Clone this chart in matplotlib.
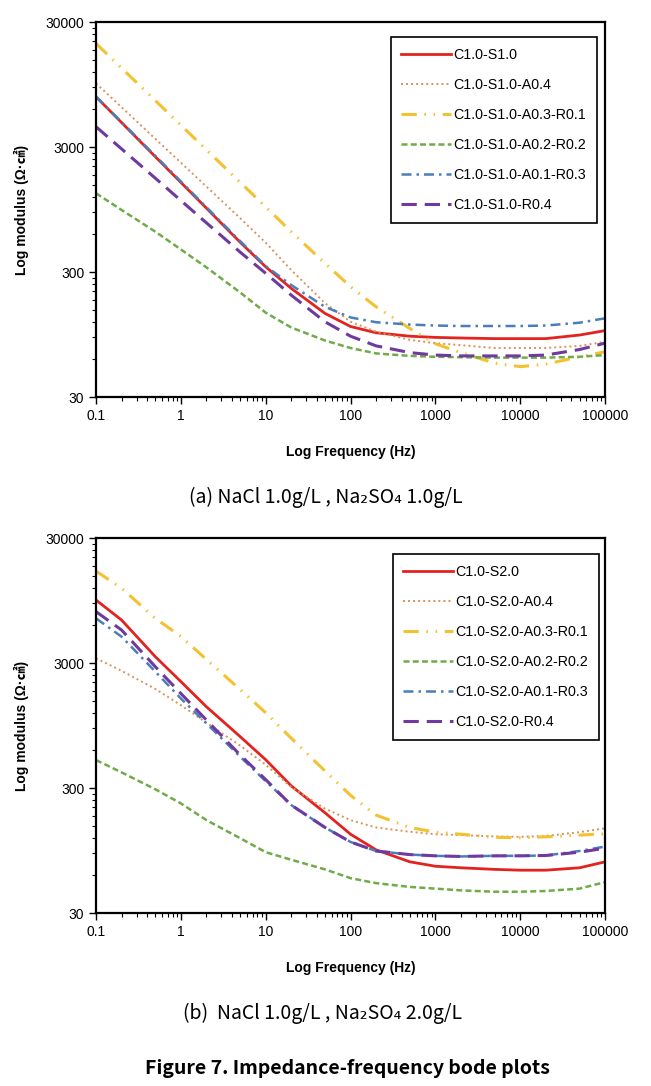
import numpy as np
import matplotlib.pyplot as plt
from matplotlib.ticker import FixedLocator, NullFormatter

plt.rcParams['font.family'] = ['Liberation Sans', 'Noto Sans CJK KR', 'DejaVu Sans']

# frequency (Hz)
freq = [0.1, 0.2, 0.5, 1, 2, 5, 10, 20, 50, 100, 200, 500,
        1000, 2000, 5000, 10000, 20000, 50000, 100000]

# (a) NaCl 1.0g/L, Na2SO4 1.0g/L
labels_a = ['C1.0-S1.0', 'C1.0-S1.0-A0.4', 'C1.0-S1.0-A0.3-R0.1',
            'C1.0-S1.0-A0.2-R0.2', 'C1.0-S1.0-A0.1-R0.3', 'C1.0-S1.0-R0.4']
a_s10 = [7570, 4710, 2510, 1563, 973, 519, 330, 222, 140, 110, 98, 92, 90, 89, 88, 88, 88, 94, 102]
a_a04 = [9700, 6250, 3490, 2250, 1450, 809, 515, 311, 169, 120, 100, 86, 81, 78, 74, 74, 74, 77, 83]
a_a03 = [20200, 12850, 7060, 4490, 2850, 1567, 995, 630, 352, 229, 158, 106, 80, 68, 56, 52.5, 55, 63, 69]
a_a02 = [1280, 942, 631, 455, 327, 206, 142, 108, 85, 74, 67, 64, 63, 62.5, 62, 62, 62, 63, 65]
a_a01 = [7600, 4750, 2550, 1590, 990, 530, 335, 236, 158, 130, 119, 114, 112, 111, 111, 111, 112, 118, 128]
a_r04 = [4360, 2900, 1690, 1120, 743, 433, 293, 196, 120, 92, 77, 68, 65, 64, 64, 64, 65, 72, 81]

# (b) NaCl 1.0g/L, Na2SO4 2.0g/L
labels_b = ['C1.0-S2.0', 'C1.0-S2.0-A0.4', 'C1.0-S2.0-A0.3-R0.1',
            'C1.0-S2.0-A0.2-R0.2', 'C1.0-S2.0-A0.1-R0.3', 'C1.0-S2.0-R0.4']
b_s20 = [9570, 6620, 3370, 2130, 1340, 773, 505, 312, 190, 128, 96, 77, 71, 69, 67, 66, 66, 69, 77]
b_a04 = [3270, 2600, 1860, 1380, 998, 655, 460, 305, 205, 166, 145, 134, 128, 126, 123, 122, 124, 133, 143]
b_a03 = [16300, 11900, 6830, 4900, 3200, 1840, 1200, 750, 410, 262, 182, 145, 133, 128, 121, 120, 122, 126, 129]
b_a02 = [502, 400, 293, 226, 166, 119, 92, 80, 67, 57, 52, 48.5, 47, 45.5, 44.4, 44.4, 45, 47, 53]
b_a01 = [6830, 4870, 2560, 1560, 986, 534, 340, 219, 145, 111, 94, 88, 86, 85, 86, 86, 86.5, 94, 102]
b_r04 = [7730, 5510, 2800, 1710, 1050, 551, 350, 219, 145, 111, 94, 88, 86, 85, 86, 86, 86.5, 92, 99]

styles = [
    dict(color='#E3231F', lw=2.0, ls='-'),
    dict(color='#DB9157', lw=1.4, ls=(0, (1, 1.6))),
    dict(color='#F2C230', lw=2.2, ls=(0, (5, 2.5, 0.5, 2.5, 0.5, 2.5))),
    dict(color='#70AB48', lw=1.8, ls=(0, (2.4, 1.3))),
    dict(color='#4A7EBB', lw=1.8, ls=(0, (4, 2, 1, 2))),
    dict(color='#6E3AA0', lw=2.2, ls=(0, (5, 2.6))),
]


def draw(ax, series, labels, anchor):
    for z, lab, st in zip(series, labels, styles):
        ax.plot(freq, z, label=lab, **st)
    ax.set_xscale('log')
    ax.set_yscale('log')
    ax.set_xlim(0.1, 100000)
    ax.set_ylim(30, 30000)
    ax.set_xticks([0.1, 1, 10, 100, 1000, 10000, 100000])
    ax.set_xticklabels(['0.1', '1', '10', '100', '1000', '10000', '100000'])
    ax.set_yticks([30, 300, 3000, 30000])
    ax.set_yticklabels(['30', '300', '3000', '30000'])
    ax.yaxis.set_minor_locator(FixedLocator([30 * k * 10 ** n for n in range(3) for k in range(2, 10)]))
    ax.yaxis.set_minor_formatter(NullFormatter())
    ax.xaxis.set_minor_formatter(NullFormatter())
    ax.tick_params(which='both', direction='out', top=False, right=False, labelsize=10)
    ax.tick_params(which='major', length=5, width=1)
    ax.tick_params(which='minor', length=3, width=0.8)
    for sp in ax.spines.values():
        sp.set_linewidth(1.6)
    ax.set_xlabel('Log Frequency (Hz)', fontsize=10, fontweight='bold', labelpad=16)
    ax.set_ylabel('Log modulus (Ω·㎠)', fontsize=10, fontweight='bold', labelpad=12)
    leg = ax.legend(loc='upper right', bbox_to_anchor=anchor, fontsize=10.3,
                    handlelength=3.5, handletextpad=0.15, labelspacing=1.12,
                    borderpad=0.75, borderaxespad=0, fancybox=False, framealpha=1)
    leg.get_frame().set_edgecolor('black')
    leg.get_frame().set_linewidth(1.2)


fig = plt.figure(figsize=(6.51, 10.86), dpi=100)

ax1 = fig.add_axes([0.1475, 0.6344, 0.782, 0.3453])
draw(ax1, [a_s10, a_a04, a_a03, a_a02, a_a01, a_r04], labels_a, (0.984, 0.96))

ax2 = fig.add_axes([0.1475, 0.1593, 0.782, 0.3453])
draw(ax2, [b_s20, b_a04, b_a03, b_a02, b_a01, b_r04], labels_b, (0.988, 0.957))

cap = ['Noto Sans CJK KR', 'DejaVu Sans']
fig.text(0.50, 1 - 497 / 1086, '(a) NaCl 1.0g/L , Na₂SO₄ 1.0g/L', ha='center', va='center',
         fontsize=14, family=cap)
fig.text(0.495, 1 - 1013 / 1086, '(b)  NaCl 1.0g/L , Na₂SO₄ 2.0g/L', ha='center', va='center',
         fontsize=14, family=cap)
fig.text(0.533, 1 - 1068 / 1086, 'Figure 7. Impedance-frequency bode plots', ha='center',
         va='center', fontsize=14, fontweight='bold', family=cap)

fig.savefig('out.png', dpi=100)
